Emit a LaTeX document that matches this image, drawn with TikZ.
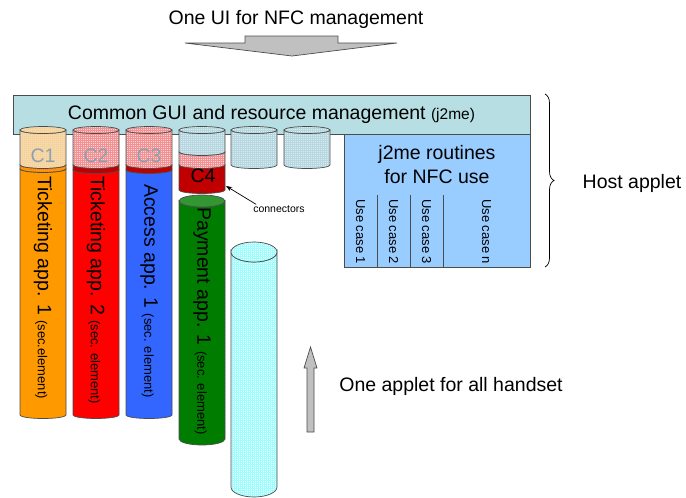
\documentclass[tikz,border=0pt]{standalone}
\usepackage{fontspec}
\setmainfont{Liberation Sans}
\usetikzlibrary{patterns.meta,decorations.pathreplacing,arrows.meta}

\definecolor{guiteal}{RGB}{183,222,226}
\definecolor{j2meblu}{RGB}{153,204,255}
\definecolor{arancio}{RGB}{255,153,0}
\definecolor{arancioband}{RGB}{255,120,40}
\definecolor{rosso}{RGB}{255,0,0}
\definecolor{rossoscuro}{RGB}{192,0,0}
\definecolor{blu}{RGB}{51,102,255}
\definecolor{verde}{RGB}{0,125,0}
\definecolor{verdechiaro}{RGB}{50,150,50}
\definecolor{vuoto}{RGB}{214,228,232}
\definecolor{celestino}{RGB}{216,238,242}
\definecolor{celestinoscuro}{RGB}{184,214,224}
\definecolor{grigiofreccia}{RGB}{192,192,192}
\definecolor{grigioetichetta}{RGB}{140,160,176}

% tronco di cilindro: x sinistra, y alto, y basso, raggio y, opzioni
\newcommand{\tronco}[5]{%
  \path[#5] (#1,#2) -- (#1,#3)
    arc[start angle=180, end angle=0, x radius=23, y radius=#4]
    -- ({#1+46},#2)
    arc[start angle=0, end angle=180, x radius=23, y radius=#4] -- cycle;}
% ellisse superiore del cilindro
\newcommand{\tappo}[4]{%
  \path[#4] ({#1+23},#2) ellipse[x radius=23, y radius=#3];}
\newcommand{\piccolo}{\fontsize{13}{15}\selectfont}

\begin{document}
\begin{tikzpicture}[x=1pt, y=-1pt, >=Stealth,
    bordo/.style={draw=black!70, line width=0.7pt},
    reticolo/.style 2 args={preaction={fill=#1},
      pattern={Hatch[angle=0, distance=2pt, line width=0.5pt]}, pattern color=#2},
    testo/.style={font=\fontsize{19.5}{24}\selectfont},
    verticale/.style={rotate=-90, anchor=west, inner sep=0pt}]

    \useasboundingbox (0,0) rectangle (686,498);

    % Titolo e freccia in alto
    \node[testo] (titolo) at (296,19) {One UI for NFC management};
    \draw[bordo, fill=grigiofreccia] (245,36) -- (338,36) -- (338,43) -- (397,43)
        -- (292,56) -- (185,43) -- (245,43) -- cycle;

    % Routine j2me
    \node[bordo, fill=j2meblu, minimum width=186, minimum height=133, inner sep=0pt] (j2me) at (437,200.5) {};
    \node[testo, align=center] (routines) at (437,165) {j2me routines\\for NFC use};
    \draw[bordo] (377,195) -- (377,267);
    \draw[bordo] (410,195) -- (410,267);
    \draw[bordo] (443,195) -- (443,267);
    \node[verticale, font=\piccolo] (uc1) at (360.5,199) {Use case 1};
    \node[verticale, font=\piccolo] (uc2) at (393.5,199) {Use case 2};
    \node[verticale, font=\piccolo] (uc3) at (426.5,199) {Use case 3};
    \node[verticale, font=\piccolo] (ucn) at (486.5,199) {Use case n};

    % Interfaccia comune
    \node[bordo, fill=guiteal, minimum width=517, minimum height=39, testo] (gui) at (271.5,114.5)
        {Common GUI and resource management {\fontsize{15.5}{18}\selectfont(j2me)}};

    % Graffa
    \coordinate (graffaalto) at (545,94);
    \coordinate (graffabasso) at (545,267);
    \draw[line width=0.7pt, decorate, decoration={brace, amplitude=9pt}] (graffaalto) -- (graffabasso);
    \node[testo] (host) at (632,183) {Host applet};

    % Ticketing app. 1
    \tronco{20}{130}{165}{3.5}{bordo, reticolo={vuoto}{arancio!45}}
    \tronco{20}{165}{169}{3.5}{bordo, reticolo={arancioband}{arancio}}
    \tronco{20}{169}{415}{3.5}{bordo, fill=arancio}
    \tappo{20}{130}{3.5}{bordo, reticolo={vuoto}{arancio!45}}
    \node[testo, text=grigioetichetta] (c1) at (43,156) {C1};
    \node[testo, verticale] (tick1) at (43,176) {Ticketing app. 1 {\piccolo(sec.element)}};

    % Ticketing app. 2
    \tronco{73}{130}{165}{3.5}{bordo, reticolo={vuoto}{red!45}}
    \tronco{73}{165}{170}{3.5}{bordo, fill=rossoscuro}
    \tronco{73}{170}{415}{3.5}{bordo, fill=rosso}
    \tappo{73}{130}{3.5}{bordo, reticolo={vuoto}{red!45}}
    \node[testo, text=grigioetichetta] (c2) at (96,156) {C2};
    \node[testo, verticale] (tick2) at (96,176) {Ticketing app. 2 {\piccolo(sec. element)}};

    % Access app. 1
    \tronco{126}{130}{165}{3.5}{bordo, reticolo={vuoto}{red!45}}
    \tronco{126}{165}{170}{3.5}{bordo, fill=rossoscuro}
    \tronco{126}{170}{415}{3.5}{bordo, fill=blu}
    \tappo{126}{130}{3.5}{bordo, reticolo={vuoto}{red!45}}
    \node[testo, text=grigioetichetta] (c3) at (149,156) {C3};
    \node[testo, verticale] (access) at (149,184) {Access app. 1 {\piccolo(sec. element)}};

    % Connettore C4
    \tronco{179}{130}{152}{3.5}{bordo, reticolo={celestino}{celestinoscuro}}
    \tronco{179}{152}{165}{3.5}{bordo, reticolo={vuoto}{red!45}}
    \tronco{179}{165}{190}{3.5}{bordo, fill=rossoscuro}
    \tappo{179}{130}{3.5}{bordo, reticolo={celestino}{celestinoscuro}}
    \node[testo] (c4) at (203,176) {C4};
    \coordinate (c4lato) at (226,186);

    % Connettori liberi
    \tronco{231}{130}{165}{3.5}{bordo, reticolo={celestino}{celestinoscuro}}
    \tappo{231}{130}{3.5}{bordo, reticolo={celestino}{celestinoscuro}}
    \tronco{284}{130}{165}{3.5}{bordo, reticolo={celestino}{celestinoscuro}}
    \tappo{284}{130}{3.5}{bordo, reticolo={celestino}{celestinoscuro}}

    % Payment app. 1
    \tronco{179}{201}{439}{6}{bordo, fill=verde}
    \tappo{179}{201}{6}{bordo, fill=verdechiaro}
    \node[testo, verticale] (payment) at (202,207) {Payment app. 1 {\piccolo(sec. element)}};

    % Cilindro per tutti i terminali
    \tronco{231}{252}{487}{10}{bordo, reticolo={white}{cyan!40}}
    \tappo{231}{252}{10}{bordo, reticolo={white}{cyan!40}}

    % Etichetta connettori
    \node[font=\fontsize{10.5}{12}\selectfont, inner sep=1pt] (conn) at (279,209) {connectors};
    \draw[->, line width=0.7pt] ([xshift=4pt]conn.north west) -- (c4lato);

    % Freccia verso l'alto
    \draw[bordo, fill=grigiofreccia] (307,432) -- (314,432) -- (314,368) -- (317,368)
        -- (310.5,347) -- (304,368) -- (307,368) -- cycle;
    \node[testo] (applet) at (451,386) {One applet for all handset};

\end{tikzpicture}
\end{document}
